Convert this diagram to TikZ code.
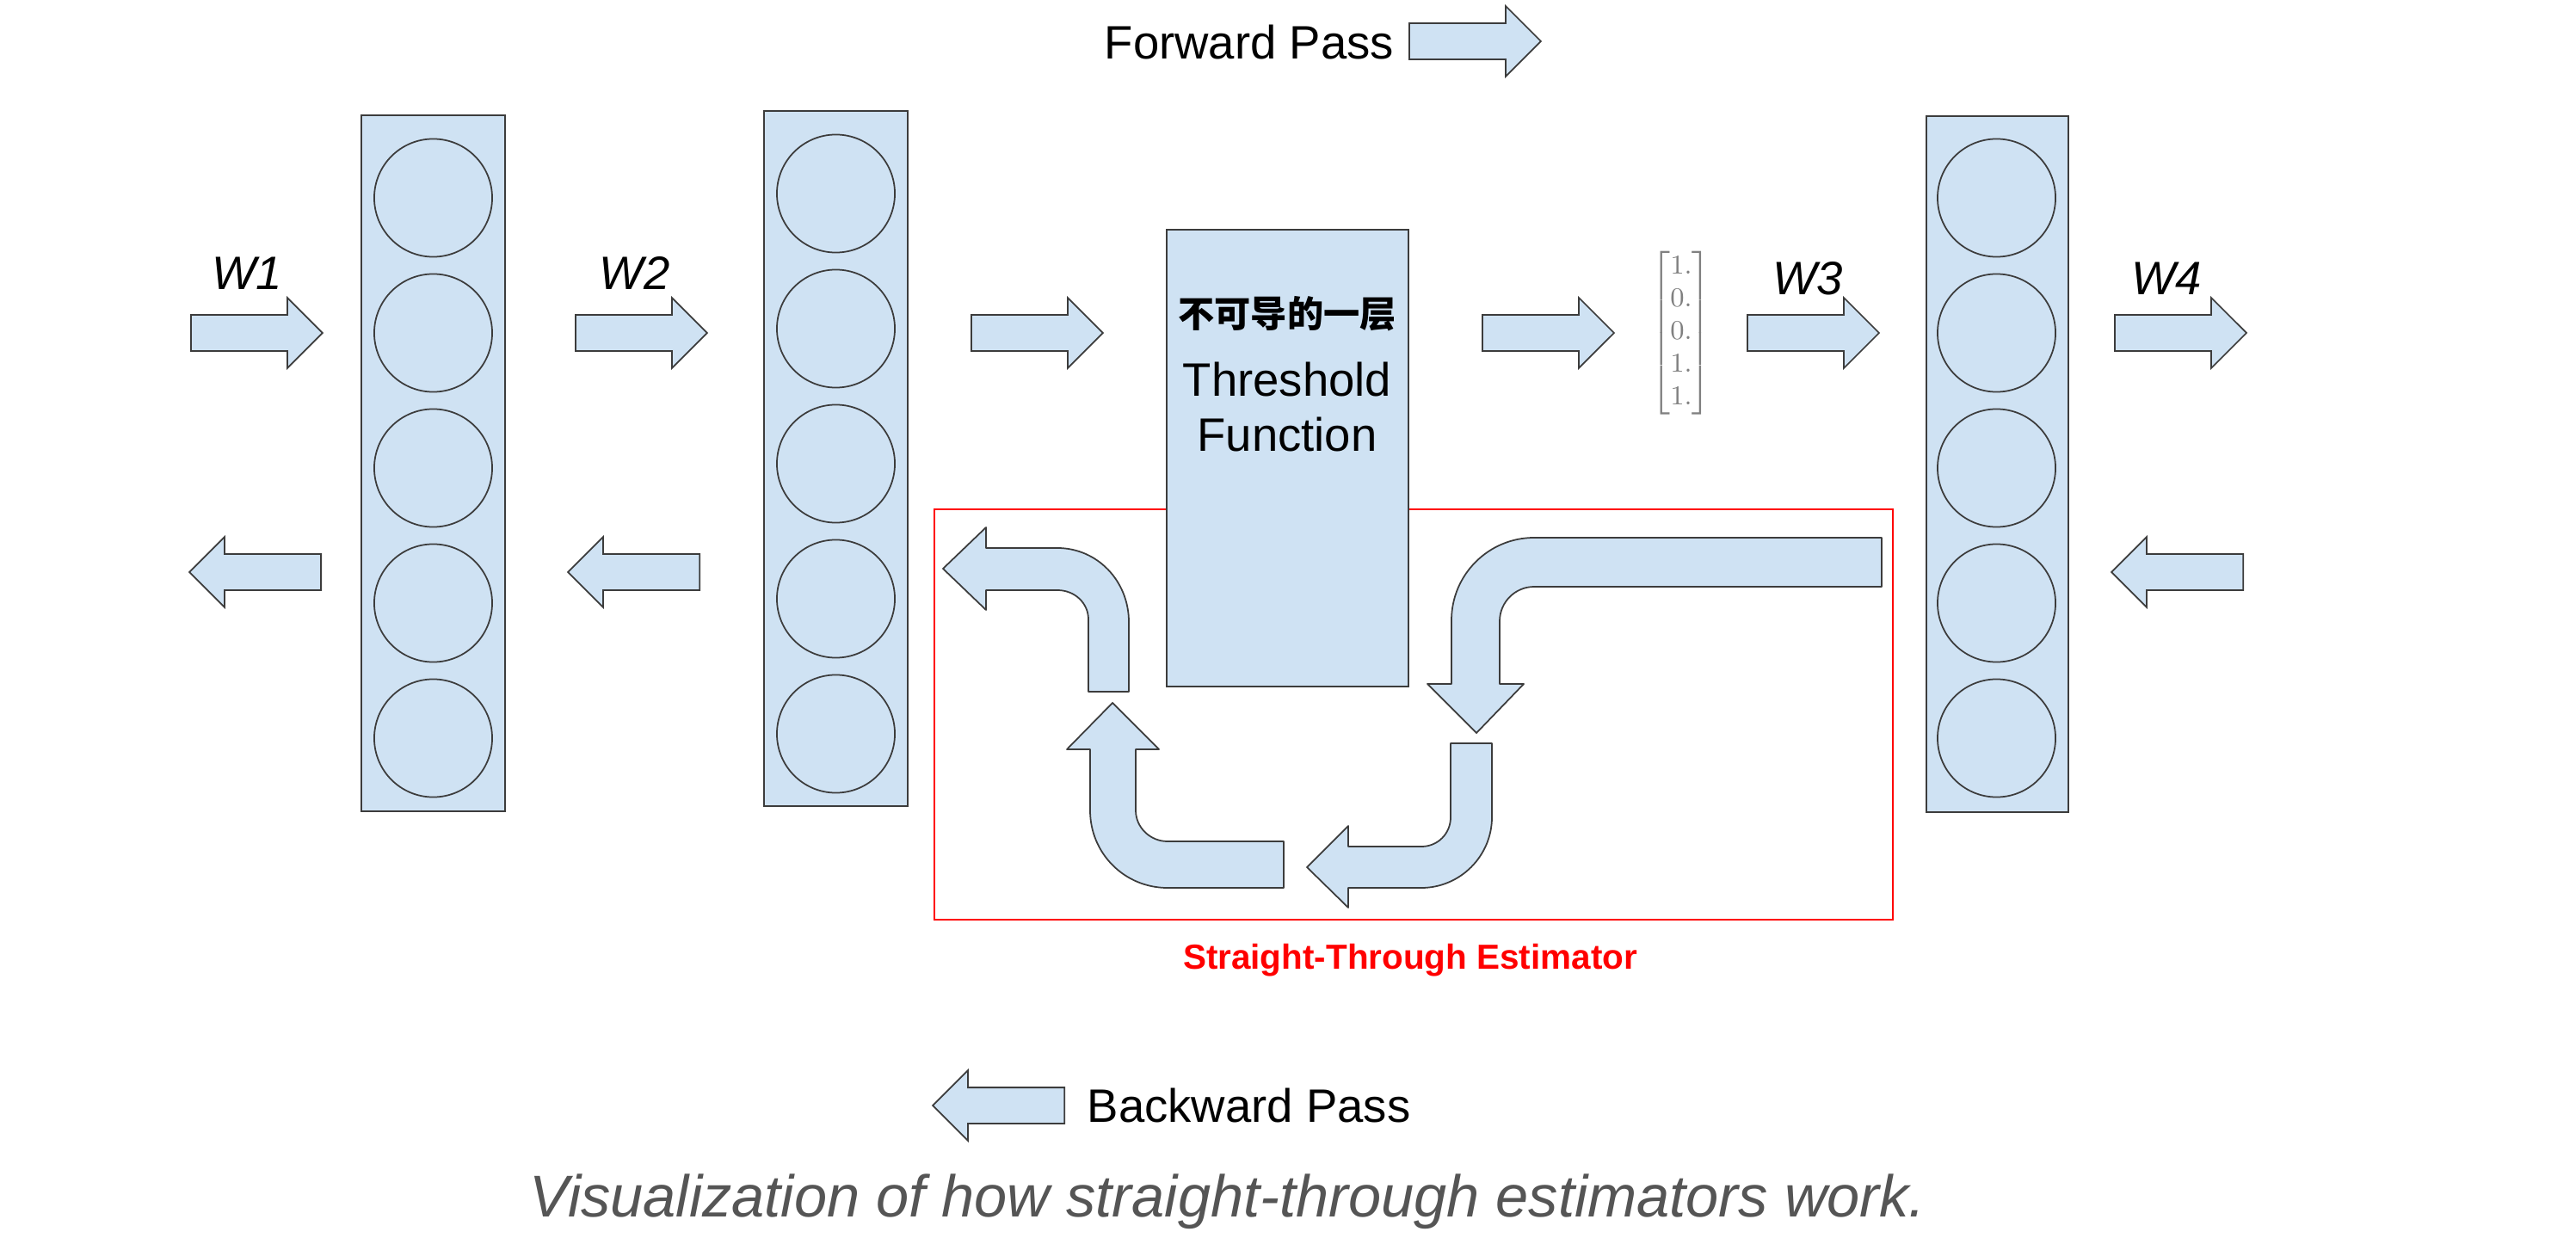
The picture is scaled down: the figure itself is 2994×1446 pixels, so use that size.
\documentclass[tikz,border=0pt]{standalone}
\usepackage{amsmath}
\usepackage[no-math]{fontspec}
\setmainfont{Liberation Sans}
\newfontfamily\cjkfont{Noto Sans CJK SC}
\usepackage{tikz}
\usetikzlibrary{shapes.arrows, positioning}
\definecolor{nnblue}{RGB}{207, 226, 243}
\definecolor{nnedge}{RGB}{60, 60, 60}
\definecolor{stered}{RGB}{255, 0, 0}
\definecolor{capgray}{RGB}{85, 85, 85}
\definecolor{vecgray}{RGB}{128, 128, 128}

\begin{document}
\begin{tikzpicture}[
  x=0.01cm, y=-0.01cm,
  layerbox/.style={rectangle, draw=nnedge, fill=nnblue, line width=0.5pt, minimum width=1.67cm},
  neuron/.style={circle, draw=nnedge, fill=nnblue, line width=0.5pt, minimum size=1.37cm, inner sep=0pt},
  fwdarrow/.style={single arrow, draw=nnedge, fill=nnblue, line width=0.5pt, anchor=tail,
                   minimum height=1.53cm, minimum width=0.8cm, inner xsep=0pt, inner ysep=0.2cm,
                   single arrow head extend=0.2cm, single arrow tip angle=90, single arrow head indent=0pt},
  bwdarrow/.style={fwdarrow, shape border rotate=180},
  bentarrow/.style={draw=nnedge, fill=nnblue, line width=0.5pt, line join=round},
  txt/.style={inner sep=0pt, font=\fontsize{15.5}{18}\selectfont},
  wlabel/.style={txt, anchor=base, font=\fontsize{15.5}{18}\selectfont\itshape},
]
  \useasboundingbox (0,0) rectangle (2994,1446);

  % legend
  \node[txt, anchor=base west] (fwdtxt) at (1283,69) {Forward Pass};
  \node[fwdarrow] (fwdleg) at (1637,48) {};
  \node[bwdarrow] (bwdleg) at (1238,1285) {};
  \node[txt, anchor=base west] (bwdtxt) at (1263,1304) {Backward Pass};

  % straight-through estimator region
  \node[rectangle, draw=stered, line width=0.6pt, minimum width=11.14cm, minimum height=4.77cm] (ste) at (1643,830.5) {};
  \node[anchor=base, inner sep=0pt, text=stered, font=\fontsize{11.5}{14}\selectfont\bfseries] (stetxt) at (1639,1126) {Straight-Through Estimator};

  % layers
  \node[layerbox, minimum height=8.09cm] (layer1) at (503.5,538.5) {};
  \node[layerbox, minimum height=8.08cm] (layer2) at (971.5,533) {};
  \node[layerbox, minimum width=1.65cm, minimum height=8.09cm] (layer3) at (2321.5,539.5) {};
  \foreach \k in {0,...,4} {
    \node[neuron] (na\k) at (503.5,{230+157*\k}) {};
    \node[neuron] (nb\k) at (971.5,{225+157*\k}) {};
    \node[neuron] (nc\k) at (2320.5,{230+157*\k}) {};
  }

  % threshold layer
  \node[rectangle, draw=nnedge, fill=nnblue, line width=0.5pt, minimum width=2.81cm, minimum height=5.31cm] (thr) at (1496.5,532.5) {};
  \node[anchor=base, inner sep=0pt, font=\fontsize{12}{14}\selectfont\cjkfont\bfseries] (thrzh) at (1496,381) {不可导的一层};
  \node[txt, anchor=base] (thren) at (1496,461) {Threshold};
  \node[txt, anchor=base] (thrfn) at (1496,524.5) {Function};

  % binary output
  \node[text=vecgray, font=\fontsize{9}{10.8}\selectfont] (vec) at (1954,387)
    {$\begin{bmatrix}1.\\0.\\0.\\1.\\1.\end{bmatrix}$};

  % forward arrows
  \node[fwdarrow] (w1) at (221,387) {};
  \node[fwdarrow] (w2) at (668,387) {};
  \node[fwdarrow] (tin) at (1128,387) {};
  \node[fwdarrow] (tout) at (1722,387) {};
  \node[fwdarrow] (w3) at (2030,387) {};
  \node[fwdarrow] (w4) at (2457,387) {};
  \node[wlabel] (w1txt) at (287,337) {W1};
  \node[wlabel] (w2txt) at (737.5,337) {W2};
  \node[wlabel] (w3txt) at (2101,343) {W3};
  \node[wlabel] (w4txt) at (2518,343) {W4};

  % backward arrows
  \node[bwdarrow] (b1) at (374,665) {};
  \node[bwdarrow] (b2) at (814,665) {};
  \node[bwdarrow] (b4) at (2608,665) {};

  % gradient bypassing the threshold
  \draw[bentarrow] (2187,625) -- (1783,625) .. controls (1730,625) and (1687,668) .. (1687,721)
    -- (1687,795) -- (1659,795) -- (1716,852) -- (1771,795) -- (1743,795) -- (1743,722)
    .. controls (1743,700) and (1761,682) .. (1783,682) -- (2187,682) -- cycle;
  \draw[bentarrow] (1686,864) -- (1734,864) -- (1734,950) .. controls (1734,995) and (1697,1032) .. (1652,1032)
    -- (1567,1032) -- (1567,1055) -- (1519,1008) -- (1567,960) -- (1567,984) -- (1652,984)
    .. controls (1671,984) and (1686,969) .. (1686,950) -- cycle;
  \draw[bentarrow] (1492,978) -- (1357,978) .. controls (1337,978) and (1320,962) .. (1320,942)
    -- (1320,871) -- (1347,871) -- (1293,817) -- (1240,871) -- (1267,871) -- (1267,942)
    .. controls (1267,992) and (1307,1032) .. (1357,1032) -- (1492,1032) -- cycle;
  \draw[bentarrow] (1265,804) -- (1312,804) -- (1312,723) .. controls (1312,675) and (1275,637) .. (1229,637)
    -- (1146,637) -- (1146,613) -- (1096,661) -- (1146,709) -- (1146,686) -- (1229,686)
    .. controls (1249,686) and (1265,701) .. (1265,720) -- cycle;

  % caption
  \node[anchor=base west, inner sep=0pt, text=capgray, font=\fontsize{19.5}{23}\selectfont\itshape] (caption) at (615,1414)
    {Visualization of how straight-through estimators work.};
\end{tikzpicture}
\end{document}
